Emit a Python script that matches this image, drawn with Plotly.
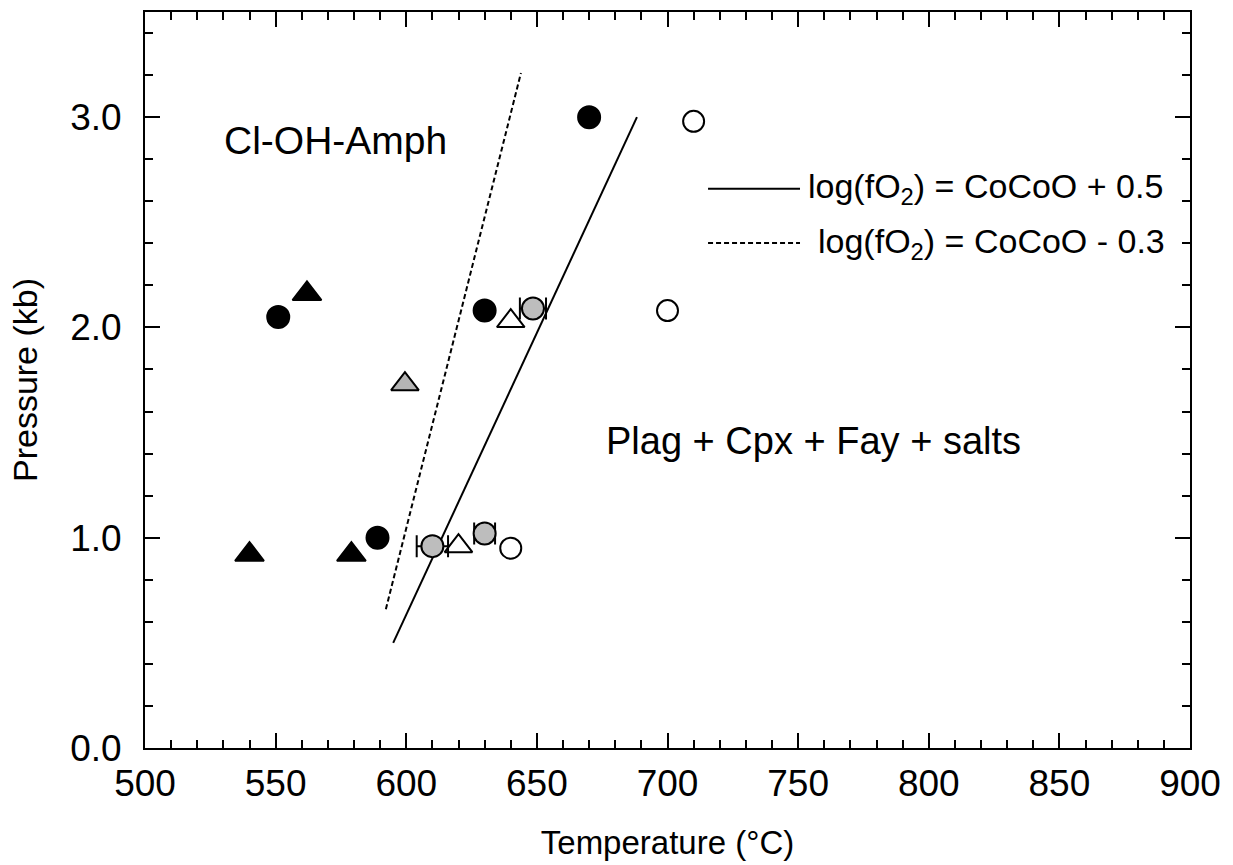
import plotly.graph_objects as go

# ---- data ----
black_circle_T = [670, 630, 551, 589]
black_circle_P = [3.0, 2.08, 2.05, 1.0]

black_tri_T = [562, 540, 579]
black_tri_P = [2.16, 0.92, 0.92]

gray_tri_T = [599.5]
gray_tri_P = [1.73]

open_tri_T = [640, 620]
open_tri_P = [2.03, 0.96]

gray_circle_T = [648.5, 610, 630]
gray_circle_P = [2.09, 0.96, 1.02]
gray_circle_err = [5, 6, 4]

open_circle_T = [710, 700, 640]
open_circle_P = [2.98, 2.08, 0.95]

solid_T = [595, 688.3]
solid_P = [0.5, 3.0]
dashed_T = [592.2, 643.9]
dashed_P = [0.66, 3.21]

x_ticks = [500, 550, 600, 650, 700, 750, 800, 850, 900]
y_ticks = [0.0, 1.0, 2.0, 3.0]

FONT = "Liberation Sans, Arial, sans-serif"

fig = go.Figure()

fig.add_trace(go.Scatter(x=solid_T, y=solid_P, mode="lines",
                         line=dict(color="black", width=2), showlegend=False))
fig.add_trace(go.Scatter(x=dashed_T, y=dashed_P, mode="lines",
                         line=dict(color="black", width=2, dash="5px,3px"), showlegend=False))

mk_line = dict(color="black", width=2)
fig.add_trace(go.Scatter(x=black_circle_T, y=black_circle_P, mode="markers",
                         marker=dict(symbol="circle", size=22, color="black", line=mk_line),
                         showlegend=False))
fig.add_trace(go.Scatter(x=black_tri_T, y=black_tri_P, mode="markers",
                         marker=dict(symbol="triangle-up", size=25, color="black", line=mk_line),
                         showlegend=False))
fig.add_trace(go.Scatter(x=gray_tri_T, y=gray_tri_P, mode="markers",
                         marker=dict(symbol="triangle-up", size=24, color="#b4b4b4", line=mk_line),
                         showlegend=False))
fig.add_trace(go.Scatter(x=open_tri_T, y=open_tri_P, mode="markers",
                         marker=dict(symbol="triangle-up", size=24, color="white", line=mk_line),
                         showlegend=False))
fig.add_trace(go.Scatter(x=gray_circle_T, y=gray_circle_P, mode="markers",
                         error_x=dict(type="data", array=gray_circle_err, color="black",
                                      thickness=2, width=11),
                         marker=dict(symbol="circle", size=22, color="#bdbdbd", line=mk_line),
                         showlegend=False))
fig.add_trace(go.Scatter(x=open_circle_T, y=open_circle_P, mode="markers",
                         marker=dict(symbol="circle", size=21, color="white", line=mk_line),
                         showlegend=False))

axis_common = dict(
    showline=True, linewidth=2, linecolor="black", mirror="allticks",
    ticks="inside", ticklen=15, tickwidth=2, tickcolor="black",
    showgrid=False, zeroline=False,
    tickfont=dict(family=FONT, size=37, color="black"),
)

fig.update_xaxes(range=[500, 900], tickvals=x_ticks,
                 ticktext=[str(v) for v in x_ticks],
                 minor=dict(dtick=10, ticklen=8, tickwidth=2, tickcolor="black", ticks="inside"),
                 title=dict(text="Temperature (°C)", font=dict(family=FONT, size=33, color="black"),
                            standoff=27),
                 ticklabelstandoff=2,
                 **axis_common)
fig.update_yaxes(range=[0, 3.5], tickvals=y_ticks,
                 ticktext=[f"{v:.1f}" for v in y_ticks],
                 minor=dict(dtick=0.2, ticklen=8, tickwidth=2, tickcolor="black", ticks="inside"),
                 title=dict(text="Pressure (kb)", font=dict(family=FONT, size=34, color="black"),
                            standoff=22),
                 ticklabelstandoff=14,
                 **axis_common)

fig.add_annotation(x=573, y=2.89, xref="x", yref="y", text="Cl-OH-Amph", showarrow=False,
                   font=dict(family=FONT, size=39, color="black"))
fig.add_annotation(x=756, y=1.46, xref="x", yref="y", text="Plag + Cpx + Fay + salts",
                   showarrow=False, font=dict(family=FONT, size=38, color="black"))

# legend (drawn manually)
fig.add_shape(type="line", xref="paper", yref="paper", x0=0.5388, x1=0.6268, y0=0.760, y1=0.760,
              line=dict(color="black", width=2))
fig.add_shape(type="line", xref="paper", yref="paper", x0=0.5388, x1=0.6268, y0=0.686, y1=0.686,
              line=dict(color="black", width=2, dash="5px,3px"))
fig.add_annotation(x=0.633, y=0.760, xref="paper", yref="paper", xanchor="left", yanchor="middle",
                   text="log(fO<sub>2</sub>) = CoCoO + 0.5", showarrow=False,
                   font=dict(family=FONT, size=34, color="black"))
fig.add_annotation(x=0.642, y=0.686, xref="paper", yref="paper", xanchor="left", yanchor="middle",
                   text="log(fO<sub>2</sub>) = CoCoO - 0.3", showarrow=False,
                   font=dict(family=FONT, size=34, color="black"))

fig.update_layout(
    width=1233, height=865,
    margin=dict(l=145, r=43, t=10, b=117),
    plot_bgcolor="white", paper_bgcolor="white",
    showlegend=False,
    font=dict(family=FONT, color="black"),
)

fig.write_html("out.html")
